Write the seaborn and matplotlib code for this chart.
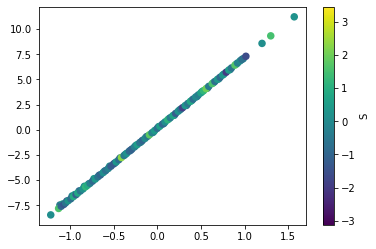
import matplotlib
matplotlib.use("Agg")
import matplotlib.pyplot as plt
import matplotlib as mpl
import seaborn as sns
import pandas as pd

# values
x_main = [-1.22, -1.13, -1.10, -1.07, -1.05, -1.02, -0.99, -0.96, -0.93, -0.91,
          -0.88, -0.85, -0.82, -0.80, -0.77, -0.74, -0.71, -0.68, -0.65, -0.62,
          -0.59, -0.56, -0.53, -0.50, -0.47, -0.44, -0.41, -0.38, -0.35, -0.32,
          -0.29, -0.26, -0.23, -0.20, -0.17, -0.14, -0.11, -0.09, -0.06, -0.03,
          0.00, 0.03, 0.06, 0.09, 0.12, 0.15, 0.18, 0.21, 0.24, 0.27,
          0.29, 0.32, 0.35, 0.38, 0.41, 0.44, 0.47, 0.50, 0.53, 0.56,
          0.59, 0.63, 0.66, 0.69, 0.72, 0.75, 0.79, 0.82, 0.85, 0.89,
          0.92, 0.95, 0.97, 1.015, 1.20, 1.30, 1.569]
y_main = [-8.46, -7.82, -7.60, -7.42, -7.26, -7.05, -6.86, -6.64, -6.45, -6.28,
          -6.08, -5.88, -5.66, -5.52, -5.32, -5.10, -4.90, -4.68, -4.48, -4.26,
          -4.05, -3.84, -3.62, -3.40, -3.20, -2.98, -2.76, -2.56, -2.34, -2.12,
          -1.92, -1.70, -1.48, -1.28, -1.06, -0.86, -0.64, -0.50, -0.30, -0.08,
          0.14, 0.35, 0.56, 0.78, 0.99, 1.20, 1.41, 1.62, 1.84, 2.05,
          2.19, 2.40, 2.61, 2.82, 3.04, 3.25, 3.46, 3.67, 3.88, 4.09,
          4.31, 4.59, 4.80, 5.01, 5.22, 5.44, 5.72, 5.93, 6.14, 6.42,
          6.63, 6.85, 6.99, 7.30, 8.58, 9.33, 11.22]
s_main = [0.1, 1.6, -1.0, -1.4, -0.6, 0.3, -0.8, 0.9, -1.1, 0.8,
          -0.5, 0.2, 1.2, 0.9, -0.3, -0.9, 0.4, -0.6, -1.0, 0.1,
          -0.7, -0.2, -1.2, -1.3, 0.3, -0.8, 2.3, -0.4, 0.2, -0.9,
          -1.1, -0.3, 0.5, -0.6, -1.0, 0.0, -0.5, 1.8, -0.2, 0.4,
          -0.7, 0.6, -0.9, 0.1, 1.1, -0.4, 0.7, -1.2, 0.2, -0.6,
          -1.9, 0.3, -0.5, 0.8, -0.8, 0.0, -0.3, 0.6, 1.2, 2.0,
          -0.4, 1.6, -0.7, 0.4, -0.9, 0.3, -2.0, 0.5, -0.6, 1.7,
          -0.2, 0.0, -0.7, -1.6, 0.1, 1.5, 0.2]

# a second, offset pass that thickens the band
x_band = [-1.115, -1.085, -1.035, -0.975, -0.945, -0.895, -0.835, -0.785, -0.725, -0.665,
          -0.605, -0.545, -0.485, -0.425, -0.365, -0.305, -0.245, -0.185, -0.125, -0.045,
          0.015, 0.075, 0.135, 0.195, 0.255, 0.335, 0.395, 0.455, 0.515, 0.575,
          0.645, 0.705, 0.765, 0.835, 0.905, 0.985]
y_band = [-7.48, -7.38, -7.08, -6.58, -6.44, -6.08, -5.62, -5.38, -4.86, -4.52,
          -4.12, -3.62, -3.30, -2.80, -2.44, -2.04, -1.56, -1.20, -0.70, -0.24,
          0.30, 0.62, 1.10, 1.44, 1.96, 2.42, 2.90, 3.30, 3.80, 4.14,
          4.68, 5.06, 5.54, 5.98, 6.52, 7.06]
s_band = [-0.5, 0.6, -1.7, -0.2, 0.5, -1.0, 0.0, -0.7, 0.3, -1.1,
          -0.4, 0.2, -0.9, -0.6, 0.1, -0.8, -0.2, 0.4, -1.0, 0.0,
          -0.5, -0.8, 0.3, -0.3, 0.5, -1.1, 0.1, -0.6, 0.2, -0.9,
          0.4, -0.4, 0.0, -0.8, 0.2, -0.3]

s_range = (-3.12, 3.45)

df = pd.DataFrame({
    "x": x_band + x_main,
    "y": y_band + y_main,
    "S": s_band + s_main,
})

fig, ax = plt.subplots(figsize=(6, 3.93), dpi=72)
norm = mpl.colors.Normalize(*s_range)
sns.scatterplot(data=df, x="x", y="y", hue="S", palette="viridis", hue_norm=norm,
                s=36, edgecolor="face", linewidth=1.5, legend=False, ax=ax)
ax.set_xlabel("")
ax.set_ylabel("")
sm = mpl.cm.ScalarMappable(norm=norm, cmap="viridis")
fig.colorbar(sm, ax=ax, label="S")
fig.savefig("out.png", dpi=72, bbox_inches="tight")
